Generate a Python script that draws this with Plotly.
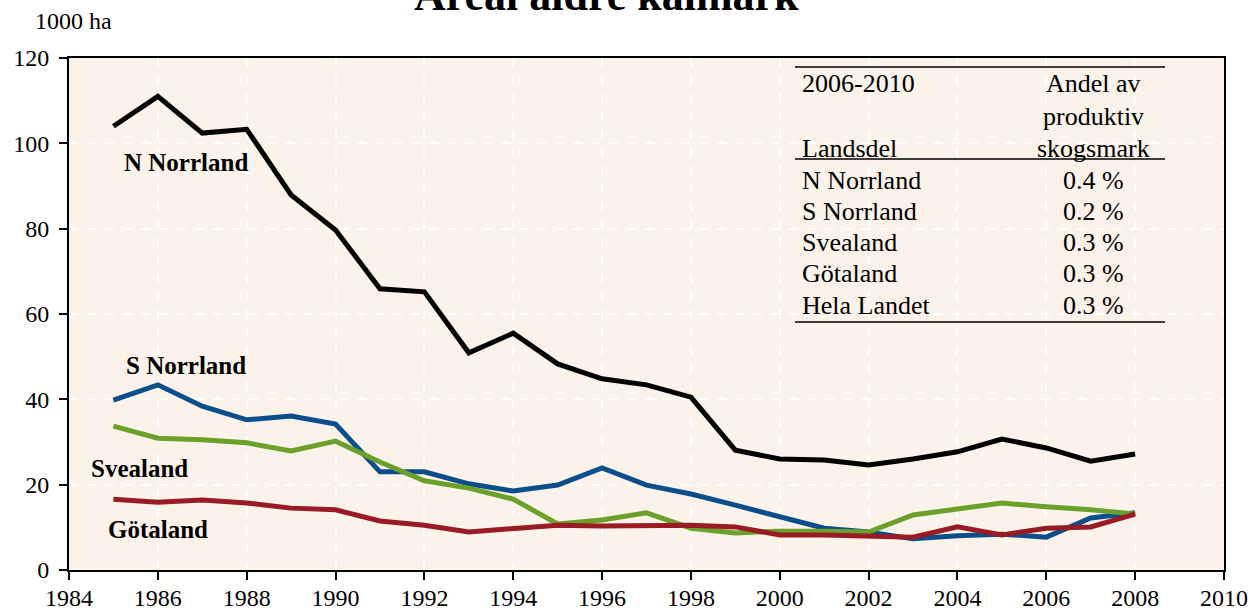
import plotly.graph_objects as go

years = list(range(1985, 2009))
n_norrland = [104, 111, 102.4, 103.3, 87.9, 79.7, 65.9, 65.2, 50.9, 55.5, 48.3, 44.8,
              43.4, 40.5, 28.1, 26.0, 25.8, 24.6, 26.0, 27.7, 30.7, 28.6, 25.5, 27.2]
s_norrland = [39.8, 43.4, 38.4, 35.2, 36.1, 34.2, 23.0, 23.0, 20.2, 18.5, 19.9, 23.9,
              19.9, 17.8, 15.2, 12.4, 9.8, 8.9, 7.3, 8.0, 8.4, 7.7, 12.2, 13.4]
svealand = [33.7, 30.9, 30.5, 29.8, 27.9, 30.2, 25.3, 20.9, 19.2, 16.6, 10.8, 11.7,
            13.4, 9.8, 8.7, 9.1, 9.1, 8.9, 12.9, 14.3, 15.7, 14.8, 14.1, 13.1]
gotaland = [16.6, 15.9, 16.4, 15.7, 14.5, 14.1, 11.5, 10.5, 8.9, 9.6, 10.5, 10.3,
            10.3, 10.5, 10.1, 8.2, 8.2, 8.0, 7.7, 10.1, 8.2, 9.8, 10.1, 13.1]

series_names = ["N Norrland", "S Norrland", "Svealand", "Götaland"]
series_values = [n_norrland, s_norrland, svealand, gotaland]
series_colors = ["#000000", "#0A4E8C", "#6BA12B", "#991B24"]
label_pos = [(1986.63, 95.4), (1986.63, 48.0), (1985.58, 23.7), (1986.0, 9.6)]

table_rows = ["N Norrland", "S Norrland", "Svealand", "Götaland", "Hela Landet"]
table_vals = ["0.4 %", "0.2 %", "0.3 %", "0.3 %", "0.3 %"]

x_ticks = list(range(1984, 2011, 2))
y_ticks = list(range(0, 121, 20))

FONT = "Liberation Serif"

fig = go.Figure()
for name, vals, col in zip(series_names, series_values, series_colors):
    fig.add_trace(go.Scatter(x=years, y=vals, mode="lines", name=name,
                             line=dict(color=col, width=5), showlegend=False))

annotations = []
for name, (lx, ly) in zip(series_names, label_pos):
    annotations.append(dict(x=lx, y=ly, xref="x", yref="y", text="<b>%s</b>" % name,
                            xanchor="center", yanchor="middle",
                            showarrow=False, font=dict(family=FONT, size=25, color="#000")))

def py(p):
    return (570 - p) / 512

def px(p):
    return (p - 69) / 1155

# title (partly cut at top)
annotations.append(dict(x=px(606), y=py(22), xref="paper", yref="paper",
                        xanchor="center", yanchor="bottom",
                        text="<b>Areal äldre kalmark</b>", showarrow=False,
                        font=dict(family=FONT, size=44, color="#000")))
# y unit
annotations.append(dict(x=px(33), y=py(21), xref="paper", yref="paper", xanchor="left",
                        yanchor="middle", text="1000 ha", showarrow=False,
                        font=dict(family=FONT, size=24, color="#000")))

# table
tfont = dict(family=FONT, size=26, color="#000")
xl = px(800)
xc = px(1093)
annotations.append(dict(x=xl, y=py(83), xref="paper", yref="paper", xanchor="left",
                        yanchor="middle", text="2006-2010", showarrow=False, font=tfont))
annotations.append(dict(x=xl, y=py(148), xref="paper", yref="paper", xanchor="left",
                        yanchor="middle", text="Landsdel", showarrow=False, font=tfont))
for t, p in zip(["Andel av", "produktiv", "skogsmark"], [83, 116, 148]):
    annotations.append(dict(x=xc, y=py(p), xref="paper", yref="paper", xanchor="center",
                            yanchor="middle", text=t, showarrow=False, font=tfont))
for i, (r, v) in enumerate(zip(table_rows, table_vals)):
    p = 180 + i * 31.3
    annotations.append(dict(x=xl, y=py(p), xref="paper", yref="paper", xanchor="left",
                            yanchor="middle", text=r, showarrow=False, font=tfont))
    annotations.append(dict(x=xc, y=py(p), xref="paper", yref="paper", xanchor="center",
                            yanchor="middle", text=v, showarrow=False, font=tfont))

shapes = []
for p in [67, 159, 322]:
    shapes.append(dict(type="line", xref="paper", yref="paper",
                       x0=px(795), x1=px(1165), y0=py(p), y1=py(p),
                       line=dict(color="#000", width=1.5)))

fig.update_layout(
    width=1252, height=612,
    margin=dict(l=69, r=28, t=58, b=42),
    paper_bgcolor="white",
    plot_bgcolor="#FBF2E9",
    annotations=annotations,
    shapes=shapes,
    font=dict(family=FONT, size=24, color="#000"),
)
fig.update_xaxes(range=[1984, 2010], tickvals=x_ticks, ticks="outside", ticklen=8,
                 tickcolor="#000", tickwidth=1.5, automargin=False, ticklabelstandoff=-3,
                 showline=True, linecolor="#000", linewidth=2, mirror=True,
                 showgrid=True, gridcolor="white", griddash="dash", gridwidth=2,
                 zeroline=False, tickfont=dict(family=FONT, size=24))
fig.update_yaxes(range=[0, 120], tickvals=y_ticks, ticks="outside", ticklen=8,
                 tickcolor="#000", tickwidth=1.5, automargin=False, ticklabelstandoff=5,
                 showline=True, linecolor="#000", linewidth=2, mirror=True,
                 showgrid=True, gridcolor="white", griddash="dash", gridwidth=2,
                 zeroline=False, tickfont=dict(family=FONT, size=24))

fig.write_html("out.html", config={"displayModeBar": False},
               post_script="document.body.style.margin='0';")
